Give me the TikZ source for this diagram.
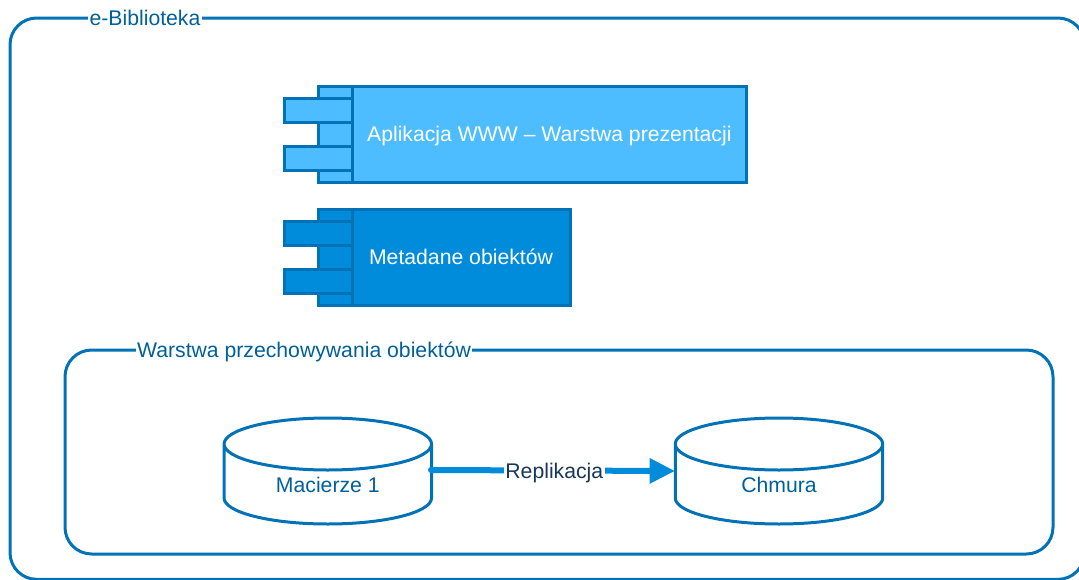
\documentclass[tikz,border=0pt]{standalone}
\usepackage{fontspec}
\setmainfont{Liberation Sans}
\usetikzlibrary{arrows.meta}
\definecolor{frameblue}{HTML}{0072B5}
\definecolor{lightfill}{HTML}{4DBDFF}
\definecolor{darkfill}{HTML}{008CDB}
\definecolor{labelblue}{HTML}{00609A}
\definecolor{replink}{HTML}{17385A}
\newcommand{\diskshape}[1]{%
  \draw[disk line] ([yshift=-19.5pt]#1.north west) arc[x radius=77.8pt,y radius=19.5pt,start angle=180,end angle=-180]
    -- ([yshift=19.5pt]#1.south west) arc[x radius=77.8pt,y radius=19.5pt,start angle=180,end angle=360]
    -- ([yshift=-19.5pt]#1.north east);}
\newcommand{\lowered}[2]{\raisebox{-#1}[0pt][0pt]{#2}}

\begin{document}
\begin{tikzpicture}[x=.75pt,y=-.75pt,font=\fontsize{15.9}{18}\selectfont,
frame node/.style={rectangle,draw=frameblue,line width=2.25pt,rounded corners=20pt,anchor=north west,inner sep=0pt,outer sep=0pt},
frame label/.style={fill=white,text=labelblue,inner sep=1pt},
part node/.style={rectangle,draw=frameblue,line width=2.25pt,anchor=north west,inner sep=0pt,outer sep=0pt},
disk line/.style={draw=frameblue,line width=2.25pt,line join=round},
disk node/.style={rectangle,text=labelblue,minimum width=155.6pt,minimum height=79.5pt,inner sep=0pt,outer sep=0pt}]
\useasboundingbox (0,0) rectangle (1079,579);

% Outer frame
  \node[frame node,minimum width=806pt,minimum height=421pt] (biblioteka) at (10,18) {};
  \node[frame label] (bibliotekaLabel) at (145,18) {e-Biblioteka};

% Top component
  \node[part node,fill=lightfill,minimum width=25.5pt,minimum height=72pt] (wwwBack) at (318,86) {};
  \node[part node,fill=lightfill,minimum width=51pt,minimum height=18pt] (wwwPortA) at (284,98) {};
  \node[part node,fill=lightfill,minimum width=51pt,minimum height=18pt] (wwwPortB) at (284,146) {};
  \node[part node,fill=lightfill,text=white,minimum width=296pt,minimum height=72pt] (www) at (352,86) {\lowered{5.6pt}{Aplikacja WWW – Warstwa prezentacji}};

% Second component
  \node[part node,fill=darkfill,minimum width=25.5pt,minimum height=72pt] (metaBack) at (318,209) {};
  \node[part node,fill=darkfill,minimum width=51pt,minimum height=18pt] (metaPortA) at (284,221) {};
  \node[part node,fill=darkfill,minimum width=51pt,minimum height=18pt] (metaPortB) at (284,269) {};
  \node[part node,fill=darkfill,text=white,minimum width=163.5pt,minimum height=72pt] (meta) at (352,209) {\lowered{5.6pt}{Metadane obiektów}};

% Storage layer
  \node[frame node,minimum width=741pt,minimum height=153pt] (warstwa) at (65,350) {};
  \node[frame label,yshift=-1.5pt] (warstwaLabel) at (304,350) {Warstwa przechowywania obiektów};

  \node[disk node] (macierze) at (327.8,471) {\lowered{15.75pt}{Macierze 1}};
  \node[disk node] (chmura) at (779,471) {\lowered{15.75pt}{Chmura}};
  \diskshape{macierze}
  \diskshape{chmura}

% Replication
  \coordinate (repStart) at (431,470);
  \coordinate (repEnd) at (675,471);
  \path (repStart) edge [draw=darkfill,line width=4.5pt,line cap=round,-{Triangle[length=19pt,width=18pt]}]
    node [fill=white,text=replink,inner sep=1pt,yshift=-2pt,xshift=1pt] (replikacja) {Replikacja} (repEnd);

\end{tikzpicture}
\end{document}
